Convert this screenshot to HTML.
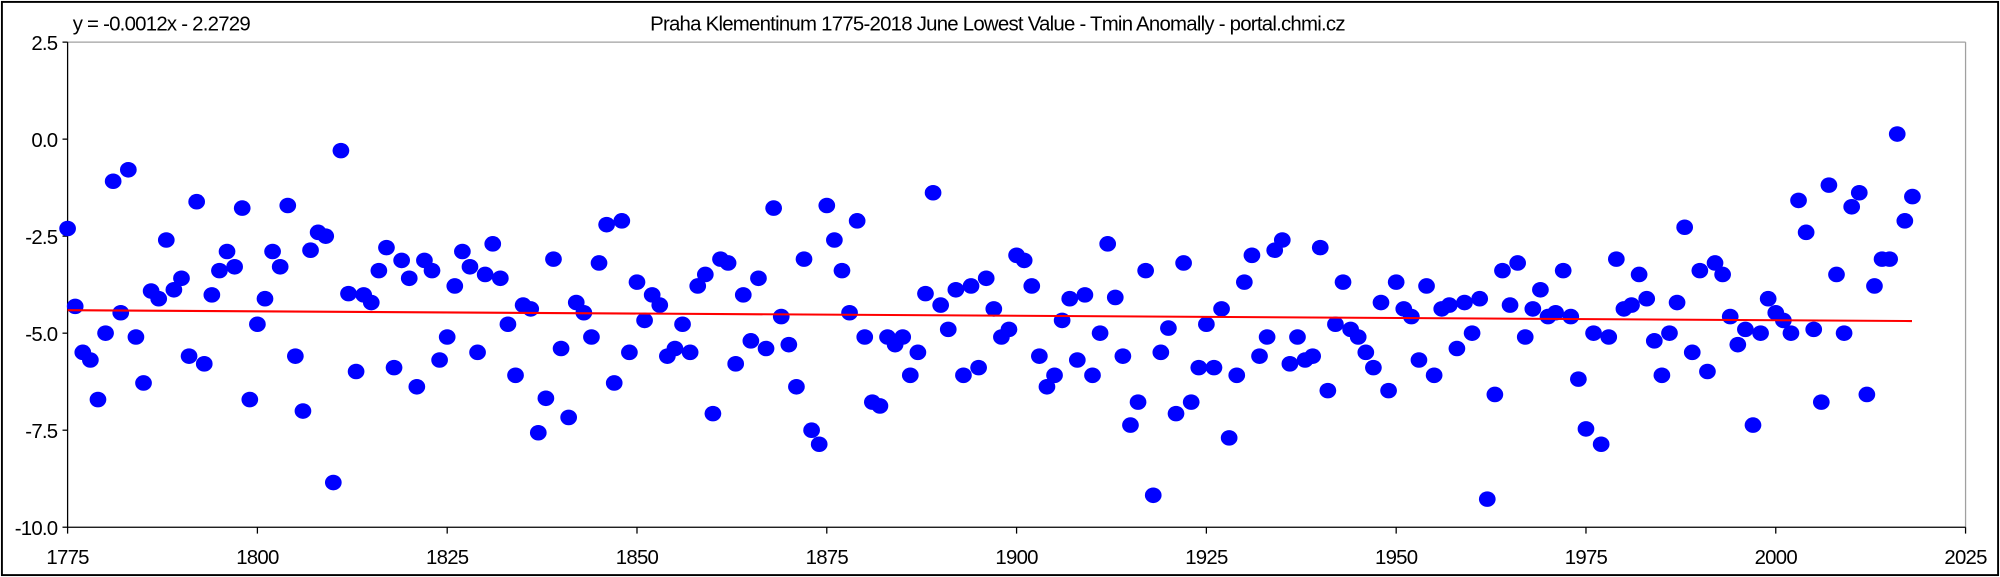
<!DOCTYPE html>
<html><head><meta charset="utf-8"><style>html,body{margin:0;padding:0;background:#fff}svg{display:block}</style></head>
<body>
<svg width="2000" height="577" viewBox="0 0 1568 452" preserveAspectRatio="none" xmlns="http://www.w3.org/2000/svg" font-family="Liberation Sans, Arial, sans-serif">
<rect x="0" y="0" width="1568" height="452" fill="#fff"/>
<rect x="1.5" y="1.5" width="1565" height="449" fill="none" stroke="#000" stroke-width="1.5"/>
<text x="57" y="24" font-size="16" letter-spacing="-0.6">y = -0.0012x - 2.2729</text>
<text x="782" y="24" font-size="16" letter-spacing="-0.6" text-anchor="middle">Praha Klementinum 1775-2018 June Lowest Value - Tmin Anomally - portal.chmi.cz</text>
<line x1="53" y1="33" x2="1541" y2="33" stroke="#a0a0a0" stroke-width="1"/>
<line x1="1541" y1="33" x2="1541" y2="413" stroke="#a0a0a0" stroke-width="1"/>
<line x1="53" y1="33" x2="53" y2="413" stroke="#000" stroke-width="1"/>
<line x1="53" y1="413" x2="1541" y2="413" stroke="#000" stroke-width="1"/>
<g stroke="#000" stroke-width="1">
<line x1="49" y1="33" x2="53" y2="33"/><line x1="49" y1="109" x2="53" y2="109"/><line x1="49" y1="185" x2="53" y2="185"/><line x1="49" y1="261" x2="53" y2="261"/><line x1="49" y1="337" x2="53" y2="337"/><line x1="49" y1="413" x2="53" y2="413"/>
<line x1="53" y1="413" x2="53" y2="418"/><line x1="201.8" y1="413" x2="201.8" y2="418"/><line x1="350.6" y1="413" x2="350.6" y2="418"/><line x1="499.4" y1="413" x2="499.4" y2="418"/><line x1="648.2" y1="413" x2="648.2" y2="418"/><line x1="797" y1="413" x2="797" y2="418"/><line x1="945.8" y1="413" x2="945.8" y2="418"/><line x1="1094.6" y1="413" x2="1094.6" y2="418"/><line x1="1243.4" y1="413" x2="1243.4" y2="418"/><line x1="1392.2" y1="413" x2="1392.2" y2="418"/><line x1="1541" y1="413" x2="1541" y2="418"/>
</g>
<g font-size="16" letter-spacing="-0.6" text-anchor="end">
<text x="45" y="39">2.5</text><text x="45" y="115">0.0</text><text x="45" y="191">-2.5</text><text x="45" y="267">-5.0</text><text x="45" y="343">-7.5</text><text x="45" y="419">-10.0</text>
</g>
<g font-size="16" letter-spacing="-0.6" text-anchor="middle">
<text x="53" y="442">1775</text><text x="201.8" y="442">1800</text><text x="350.6" y="442">1825</text><text x="499.4" y="442">1850</text><text x="648.2" y="442">1875</text><text x="797" y="442">1900</text><text x="945.8" y="442">1925</text><text x="1094.6" y="442">1950</text><text x="1243.4" y="442">1975</text><text x="1392.2" y="442">2000</text><text x="1541" y="442">2025</text>
</g>
<g fill="#0000ff" transform="translate(53,0) scale(5.952,1)">
<ellipse cx="0" cy="179" rx="1.1" ry="6.1"/><ellipse cx="1" cy="240" rx="1.1" ry="6.1"/><ellipse cx="2" cy="276" rx="1.1" ry="6.1"/><ellipse cx="3" cy="282" rx="1.1" ry="6.1"/><ellipse cx="4" cy="313" rx="1.1" ry="6.1"/><ellipse cx="5" cy="261" rx="1.1" ry="6.1"/><ellipse cx="6" cy="142" rx="1.1" ry="6.1"/><ellipse cx="7" cy="245" rx="1.1" ry="6.1"/><ellipse cx="8" cy="133" rx="1.1" ry="6.1"/><ellipse cx="9" cy="264" rx="1.1" ry="6.1"/>
<ellipse cx="10" cy="300" rx="1.1" ry="6.1"/><ellipse cx="11" cy="228" rx="1.1" ry="6.1"/><ellipse cx="12" cy="234" rx="1.1" ry="6.1"/><ellipse cx="13" cy="188" rx="1.1" ry="6.1"/><ellipse cx="14" cy="227" rx="1.1" ry="6.1"/><ellipse cx="15" cy="218" rx="1.1" ry="6.1"/><ellipse cx="16" cy="279" rx="1.1" ry="6.1"/><ellipse cx="17" cy="158" rx="1.1" ry="6.1"/><ellipse cx="18" cy="285" rx="1.1" ry="6.1"/><ellipse cx="19" cy="231" rx="1.1" ry="6.1"/>
<ellipse cx="20" cy="212" rx="1.1" ry="6.1"/><ellipse cx="21" cy="197" rx="1.1" ry="6.1"/><ellipse cx="22" cy="209" rx="1.1" ry="6.1"/><ellipse cx="23" cy="163" rx="1.1" ry="6.1"/><ellipse cx="24" cy="313" rx="1.1" ry="6.1"/><ellipse cx="25" cy="254" rx="1.1" ry="6.1"/><ellipse cx="26" cy="234" rx="1.1" ry="6.1"/><ellipse cx="27" cy="197" rx="1.1" ry="6.1"/><ellipse cx="28" cy="209" rx="1.1" ry="6.1"/><ellipse cx="29" cy="161" rx="1.1" ry="6.1"/>
<ellipse cx="30" cy="279" rx="1.1" ry="6.1"/><ellipse cx="31" cy="322" rx="1.1" ry="6.1"/><ellipse cx="32" cy="196" rx="1.1" ry="6.1"/><ellipse cx="33" cy="182" rx="1.1" ry="6.1"/><ellipse cx="34" cy="185" rx="1.1" ry="6.1"/><ellipse cx="35" cy="378" rx="1.1" ry="6.1"/><ellipse cx="36" cy="118" rx="1.1" ry="6.1"/><ellipse cx="37" cy="230" rx="1.1" ry="6.1"/><ellipse cx="38" cy="291" rx="1.1" ry="6.1"/><ellipse cx="39" cy="231" rx="1.1" ry="6.1"/>
<ellipse cx="40" cy="237" rx="1.1" ry="6.1"/><ellipse cx="41" cy="212" rx="1.1" ry="6.1"/><ellipse cx="42" cy="194" rx="1.1" ry="6.1"/><ellipse cx="43" cy="288" rx="1.1" ry="6.1"/><ellipse cx="44" cy="204" rx="1.1" ry="6.1"/><ellipse cx="45" cy="218" rx="1.1" ry="6.1"/><ellipse cx="46" cy="303" rx="1.1" ry="6.1"/><ellipse cx="47" cy="204" rx="1.1" ry="6.1"/><ellipse cx="48" cy="212" rx="1.1" ry="6.1"/><ellipse cx="49" cy="282" rx="1.1" ry="6.1"/>
<ellipse cx="50" cy="264" rx="1.1" ry="6.1"/><ellipse cx="51" cy="224" rx="1.1" ry="6.1"/><ellipse cx="52" cy="197" rx="1.1" ry="6.1"/><ellipse cx="53" cy="209" rx="1.1" ry="6.1"/><ellipse cx="54" cy="276" rx="1.1" ry="6.1"/><ellipse cx="55" cy="215" rx="1.1" ry="6.1"/><ellipse cx="56" cy="191" rx="1.1" ry="6.1"/><ellipse cx="57" cy="218" rx="1.1" ry="6.1"/><ellipse cx="58" cy="254" rx="1.1" ry="6.1"/><ellipse cx="59" cy="294" rx="1.1" ry="6.1"/>
<ellipse cx="60" cy="239" rx="1.1" ry="6.1"/><ellipse cx="61" cy="242" rx="1.1" ry="6.1"/><ellipse cx="62" cy="339" rx="1.1" ry="6.1"/><ellipse cx="63" cy="312" rx="1.1" ry="6.1"/><ellipse cx="64" cy="203" rx="1.1" ry="6.1"/><ellipse cx="65" cy="273" rx="1.1" ry="6.1"/><ellipse cx="66" cy="327" rx="1.1" ry="6.1"/><ellipse cx="67" cy="237" rx="1.1" ry="6.1"/><ellipse cx="68" cy="245" rx="1.1" ry="6.1"/><ellipse cx="69" cy="264" rx="1.1" ry="6.1"/>
<ellipse cx="70" cy="206" rx="1.1" ry="6.1"/><ellipse cx="71" cy="176" rx="1.1" ry="6.1"/><ellipse cx="72" cy="300" rx="1.1" ry="6.1"/><ellipse cx="73" cy="173" rx="1.1" ry="6.1"/><ellipse cx="74" cy="276" rx="1.1" ry="6.1"/><ellipse cx="75" cy="221" rx="1.1" ry="6.1"/><ellipse cx="76" cy="251" rx="1.1" ry="6.1"/><ellipse cx="77" cy="231" rx="1.1" ry="6.1"/><ellipse cx="78" cy="239" rx="1.1" ry="6.1"/><ellipse cx="79" cy="279" rx="1.1" ry="6.1"/>
<ellipse cx="80" cy="273" rx="1.1" ry="6.1"/><ellipse cx="81" cy="254" rx="1.1" ry="6.1"/><ellipse cx="82" cy="276" rx="1.1" ry="6.1"/><ellipse cx="83" cy="224" rx="1.1" ry="6.1"/><ellipse cx="84" cy="215" rx="1.1" ry="6.1"/><ellipse cx="85" cy="324" rx="1.1" ry="6.1"/><ellipse cx="86" cy="203" rx="1.1" ry="6.1"/><ellipse cx="87" cy="206" rx="1.1" ry="6.1"/><ellipse cx="88" cy="285" rx="1.1" ry="6.1"/><ellipse cx="89" cy="231" rx="1.1" ry="6.1"/>
<ellipse cx="90" cy="267" rx="1.1" ry="6.1"/><ellipse cx="91" cy="218" rx="1.1" ry="6.1"/><ellipse cx="92" cy="273" rx="1.1" ry="6.1"/><ellipse cx="93" cy="163" rx="1.1" ry="6.1"/><ellipse cx="94" cy="248" rx="1.1" ry="6.1"/><ellipse cx="95" cy="270" rx="1.1" ry="6.1"/><ellipse cx="96" cy="303" rx="1.1" ry="6.1"/><ellipse cx="97" cy="203" rx="1.1" ry="6.1"/><ellipse cx="98" cy="337" rx="1.1" ry="6.1"/><ellipse cx="99" cy="348" rx="1.1" ry="6.1"/>
<ellipse cx="100" cy="161" rx="1.1" ry="6.1"/><ellipse cx="101" cy="188" rx="1.1" ry="6.1"/><ellipse cx="102" cy="212" rx="1.1" ry="6.1"/><ellipse cx="103" cy="245" rx="1.1" ry="6.1"/><ellipse cx="104" cy="173" rx="1.1" ry="6.1"/><ellipse cx="105" cy="264" rx="1.1" ry="6.1"/><ellipse cx="106" cy="315" rx="1.1" ry="6.1"/><ellipse cx="107" cy="318" rx="1.1" ry="6.1"/><ellipse cx="108" cy="264" rx="1.1" ry="6.1"/><ellipse cx="109" cy="270" rx="1.1" ry="6.1"/>
<ellipse cx="110" cy="264" rx="1.1" ry="6.1"/><ellipse cx="111" cy="294" rx="1.1" ry="6.1"/><ellipse cx="112" cy="276" rx="1.1" ry="6.1"/><ellipse cx="113" cy="230" rx="1.1" ry="6.1"/><ellipse cx="114" cy="151" rx="1.1" ry="6.1"/><ellipse cx="115" cy="239" rx="1.1" ry="6.1"/><ellipse cx="116" cy="258" rx="1.1" ry="6.1"/><ellipse cx="117" cy="227" rx="1.1" ry="6.1"/><ellipse cx="118" cy="294" rx="1.1" ry="6.1"/><ellipse cx="119" cy="224" rx="1.1" ry="6.1"/>
<ellipse cx="120" cy="288" rx="1.1" ry="6.1"/><ellipse cx="121" cy="218" rx="1.1" ry="6.1"/><ellipse cx="122" cy="242" rx="1.1" ry="6.1"/><ellipse cx="123" cy="264" rx="1.1" ry="6.1"/><ellipse cx="124" cy="258" rx="1.1" ry="6.1"/><ellipse cx="125" cy="200" rx="1.1" ry="6.1"/><ellipse cx="126" cy="204" rx="1.1" ry="6.1"/><ellipse cx="127" cy="224" rx="1.1" ry="6.1"/><ellipse cx="128" cy="279" rx="1.1" ry="6.1"/><ellipse cx="129" cy="303" rx="1.1" ry="6.1"/>
<ellipse cx="130" cy="294" rx="1.1" ry="6.1"/><ellipse cx="131" cy="251" rx="1.1" ry="6.1"/><ellipse cx="132" cy="234" rx="1.1" ry="6.1"/><ellipse cx="133" cy="282" rx="1.1" ry="6.1"/><ellipse cx="134" cy="231" rx="1.1" ry="6.1"/><ellipse cx="135" cy="294" rx="1.1" ry="6.1"/><ellipse cx="136" cy="261" rx="1.1" ry="6.1"/><ellipse cx="137" cy="191" rx="1.1" ry="6.1"/><ellipse cx="138" cy="233" rx="1.1" ry="6.1"/><ellipse cx="139" cy="279" rx="1.1" ry="6.1"/>
<ellipse cx="140" cy="333" rx="1.1" ry="6.1"/><ellipse cx="141" cy="315" rx="1.1" ry="6.1"/><ellipse cx="142" cy="212" rx="1.1" ry="6.1"/><ellipse cx="143" cy="388" rx="1.1" ry="6.1"/><ellipse cx="144" cy="276" rx="1.1" ry="6.1"/><ellipse cx="145" cy="257" rx="1.1" ry="6.1"/><ellipse cx="146" cy="324" rx="1.1" ry="6.1"/><ellipse cx="147" cy="206" rx="1.1" ry="6.1"/><ellipse cx="148" cy="315" rx="1.1" ry="6.1"/><ellipse cx="149" cy="288" rx="1.1" ry="6.1"/>
<ellipse cx="150" cy="254" rx="1.1" ry="6.1"/><ellipse cx="151" cy="288" rx="1.1" ry="6.1"/><ellipse cx="152" cy="242" rx="1.1" ry="6.1"/><ellipse cx="153" cy="343" rx="1.1" ry="6.1"/><ellipse cx="154" cy="294" rx="1.1" ry="6.1"/><ellipse cx="155" cy="221" rx="1.1" ry="6.1"/><ellipse cx="156" cy="200" rx="1.1" ry="6.1"/><ellipse cx="157" cy="279" rx="1.1" ry="6.1"/><ellipse cx="158" cy="264" rx="1.1" ry="6.1"/><ellipse cx="159" cy="196" rx="1.1" ry="6.1"/>
<ellipse cx="160" cy="188" rx="1.1" ry="6.1"/><ellipse cx="161" cy="285" rx="1.1" ry="6.1"/><ellipse cx="162" cy="264" rx="1.1" ry="6.1"/><ellipse cx="163" cy="282" rx="1.1" ry="6.1"/><ellipse cx="164" cy="279" rx="1.1" ry="6.1"/><ellipse cx="165" cy="194" rx="1.1" ry="6.1"/><ellipse cx="166" cy="306" rx="1.1" ry="6.1"/><ellipse cx="167" cy="254" rx="1.1" ry="6.1"/><ellipse cx="168" cy="221" rx="1.1" ry="6.1"/><ellipse cx="169" cy="258" rx="1.1" ry="6.1"/>
<ellipse cx="170" cy="264" rx="1.1" ry="6.1"/><ellipse cx="171" cy="276" rx="1.1" ry="6.1"/><ellipse cx="172" cy="288" rx="1.1" ry="6.1"/><ellipse cx="173" cy="237" rx="1.1" ry="6.1"/><ellipse cx="174" cy="306" rx="1.1" ry="6.1"/><ellipse cx="175" cy="221" rx="1.1" ry="6.1"/><ellipse cx="176" cy="242" rx="1.1" ry="6.1"/><ellipse cx="177" cy="248" rx="1.1" ry="6.1"/><ellipse cx="178" cy="282" rx="1.1" ry="6.1"/><ellipse cx="179" cy="224" rx="1.1" ry="6.1"/>
<ellipse cx="180" cy="294" rx="1.1" ry="6.1"/><ellipse cx="181" cy="242" rx="1.1" ry="6.1"/><ellipse cx="182" cy="239" rx="1.1" ry="6.1"/><ellipse cx="183" cy="273" rx="1.1" ry="6.1"/><ellipse cx="184" cy="237" rx="1.1" ry="6.1"/><ellipse cx="185" cy="261" rx="1.1" ry="6.1"/><ellipse cx="186" cy="234" rx="1.1" ry="6.1"/><ellipse cx="187" cy="391" rx="1.1" ry="6.1"/><ellipse cx="188" cy="309" rx="1.1" ry="6.1"/><ellipse cx="189" cy="212" rx="1.1" ry="6.1"/>
<ellipse cx="190" cy="239" rx="1.1" ry="6.1"/><ellipse cx="191" cy="206" rx="1.1" ry="6.1"/><ellipse cx="192" cy="264" rx="1.1" ry="6.1"/><ellipse cx="193" cy="242" rx="1.1" ry="6.1"/><ellipse cx="194" cy="227" rx="1.1" ry="6.1"/><ellipse cx="195" cy="248" rx="1.1" ry="6.1"/><ellipse cx="196" cy="245" rx="1.1" ry="6.1"/><ellipse cx="197" cy="212" rx="1.1" ry="6.1"/><ellipse cx="198" cy="248" rx="1.1" ry="6.1"/><ellipse cx="199" cy="297" rx="1.1" ry="6.1"/>
<ellipse cx="200" cy="336" rx="1.1" ry="6.1"/><ellipse cx="201" cy="261" rx="1.1" ry="6.1"/><ellipse cx="202" cy="348" rx="1.1" ry="6.1"/><ellipse cx="203" cy="264" rx="1.1" ry="6.1"/><ellipse cx="204" cy="203" rx="1.1" ry="6.1"/><ellipse cx="205" cy="242" rx="1.1" ry="6.1"/><ellipse cx="206" cy="239" rx="1.1" ry="6.1"/><ellipse cx="207" cy="215" rx="1.1" ry="6.1"/><ellipse cx="208" cy="234" rx="1.1" ry="6.1"/><ellipse cx="209" cy="267" rx="1.1" ry="6.1"/>
<ellipse cx="210" cy="294" rx="1.1" ry="6.1"/><ellipse cx="211" cy="261" rx="1.1" ry="6.1"/><ellipse cx="212" cy="237" rx="1.1" ry="6.1"/><ellipse cx="213" cy="178" rx="1.1" ry="6.1"/><ellipse cx="214" cy="276" rx="1.1" ry="6.1"/><ellipse cx="215" cy="212" rx="1.1" ry="6.1"/><ellipse cx="216" cy="291" rx="1.1" ry="6.1"/><ellipse cx="217" cy="206" rx="1.1" ry="6.1"/><ellipse cx="218" cy="215" rx="1.1" ry="6.1"/><ellipse cx="219" cy="248" rx="1.1" ry="6.1"/>
<ellipse cx="220" cy="270" rx="1.1" ry="6.1"/><ellipse cx="221" cy="258" rx="1.1" ry="6.1"/><ellipse cx="222" cy="333" rx="1.1" ry="6.1"/><ellipse cx="223" cy="261" rx="1.1" ry="6.1"/><ellipse cx="224" cy="234" rx="1.1" ry="6.1"/><ellipse cx="225" cy="245" rx="1.1" ry="6.1"/><ellipse cx="226" cy="251" rx="1.1" ry="6.1"/><ellipse cx="227" cy="261" rx="1.1" ry="6.1"/><ellipse cx="228" cy="157" rx="1.1" ry="6.1"/><ellipse cx="229" cy="182" rx="1.1" ry="6.1"/>
<ellipse cx="230" cy="258" rx="1.1" ry="6.1"/><ellipse cx="231" cy="315" rx="1.1" ry="6.1"/><ellipse cx="232" cy="145" rx="1.1" ry="6.1"/><ellipse cx="233" cy="215" rx="1.1" ry="6.1"/><ellipse cx="234" cy="261" rx="1.1" ry="6.1"/><ellipse cx="235" cy="162" rx="1.1" ry="6.1"/><ellipse cx="236" cy="151" rx="1.1" ry="6.1"/><ellipse cx="237" cy="309" rx="1.1" ry="6.1"/><ellipse cx="238" cy="224" rx="1.1" ry="6.1"/><ellipse cx="239" cy="203" rx="1.1" ry="6.1"/>
<ellipse cx="240" cy="203" rx="1.1" ry="6.1"/><ellipse cx="241" cy="105" rx="1.1" ry="6.1"/><ellipse cx="242" cy="173" rx="1.1" ry="6.1"/><ellipse cx="243" cy="154" rx="1.1" ry="6.1"/>
</g>
<line x1="53" y1="243" x2="1499" y2="251.5" stroke="#ff0000" stroke-width="1.6"/>
</svg>
</body></html>
